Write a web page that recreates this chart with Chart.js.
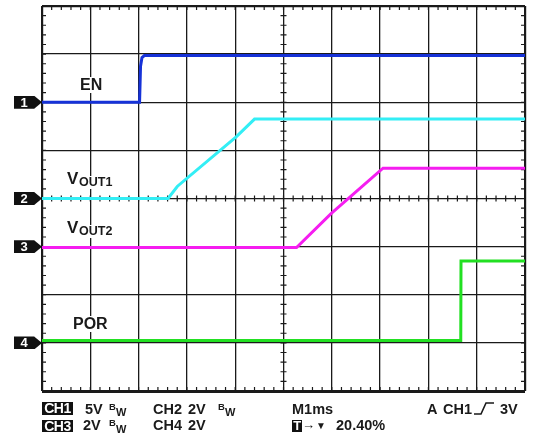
<!DOCTYPE html>
<html>
<head>
<meta charset="utf-8">
<script src="https://cdn.jsdelivr.net/npm/chart.js@4"></script>
<style>
  body { margin: 0; background: #fff; }
  #wrap { position: relative; width: 537px; height: 442px; overflow: hidden; font-family: "Liberation Sans", Arial, sans-serif; font-weight: bold; color: #1a1a1a; }
  #scope { position: absolute; left: 0; top: 0; }
  .t { position: absolute; line-height: 1; white-space: nowrap; }
  .lbl { background: #fff; padding: 0 1px; }
  .inv { position: absolute; background: #111; color: #fff; text-align: center; letter-spacing: -0.5px; }
  .mark { position: absolute; width: 28px; height: 13px; background: #111; color: #fff; font-size: 13px; line-height: 13px;
          clip-path: polygon(0 0, 72% 0, 100% 50%, 72% 100%, 0 100%); }
  .mark span { position: absolute; left: 0; width: 20px; text-align: center; }
</style>
</head>
<body>
<div id="wrap">
  <canvas id="scope" width="537" height="442"></canvas>
</div>
<script>
// time in ms (1 ms/div), level in divisions from bottom of screen
var enTime = [0, 2.02, 2.04, 2.07, 2.12, 10];
var enLevel = [6.0, 6.0, 6.75, 6.93, 6.97, 6.97];
var vout1Time = [0, 2.61, 2.80, 4.02, 4.40, 10];
var vout1Level = [4.0, 4.0, 4.25, 5.28, 5.65, 5.65];
var vout2Time = [0, 5.27, 5.99, 7.06, 10];
var vout2Level = [2.98, 2.98, 3.69, 4.63, 4.63];
var porTime = [0, 8.67, 8.675, 10];
var porLevel = [1.05, 1.05, 2.70, 2.70];

var channelNames = ["EN", "VOUT1", "VOUT2", "POR"];
var channelColors = ['#1632d8', '#33eef5', '#f51df0', '#22e022'];
var channelMarkers = [6, 4, 3, 1];
var xDivs = 10, yDivs = 8;

function pts(ts, vs) {
    return ts.map(function (t, i) { return { x: t, y: vs[i] }; });
}

var scopeTicks = {
    id: 'scopeTicks',
    beforeDatasetsDraw: function (chart) {
        var ctx = chart.ctx, a = chart.chartArea, x = chart.scales.x, y = chart.scales.y;
        var cx = x.getPixelForValue(xDivs / 2), cy = y.getPixelForValue(yDivs / 2);
        ctx.save();
        ctx.strokeStyle = '#1a1a1a';
        ctx.lineWidth = 1.2;
        ctx.beginPath();
        for (var i = 0; i <= xDivs * 5; i++) {
            var px = x.getPixelForValue(i / 5);
            ctx.moveTo(px, a.top); ctx.lineTo(px, a.top + 4);
            ctx.moveTo(px, a.bottom); ctx.lineTo(px, a.bottom - 4);
            ctx.moveTo(px, cy - 3); ctx.lineTo(px, cy + 3);
        }
        for (var j = 0; j <= yDivs * 5; j++) {
            var py = y.getPixelForValue(j / 5);
            ctx.moveTo(a.left, py); ctx.lineTo(a.left + 4, py);
            ctx.moveTo(a.right, py); ctx.lineTo(a.right - 4, py);
            ctx.moveTo(cx - 3, py); ctx.lineTo(cx + 3, py);
        }
        ctx.stroke();
        ctx.restore();
    }
};

var series = [pts(enTime, enLevel), pts(vout1Time, vout1Level), pts(vout2Time, vout2Level), pts(porTime, porLevel)];

var chart = new Chart(document.getElementById('scope').getContext('2d'), {
    type: 'line',
    data: {
        datasets: series.map(function (d, i) {
            return {
                label: channelNames[i],
                data: d,
                borderColor: channelColors[i],
                borderWidth: 3,
                pointRadius: 0,
                tension: 0,
                fill: false
            };
        })
    },
    options: {
        responsive: false,
        animation: false,
        layout: { padding: { left: 42, top: 6, right: 12, bottom: 51 } },
        plugins: { legend: { display: false }, tooltip: { enabled: false } },
        scales: {
            x: {
                type: 'linear', min: 0, max: xDivs,
                ticks: { display: false, stepSize: 1 },
                border: { display: false },
                grid: {
                    drawTicks: false, color: '#1a1a1a',
                    lineWidth: function (c) { return (c.tick.value === 0 || c.tick.value === xDivs) ? 2.2 : 1.3; }
                }
            },
            y: {
                type: 'linear', min: 0, max: yDivs,
                ticks: { display: false, stepSize: 1 },
                border: { display: false },
                grid: {
                    drawTicks: false, color: '#1a1a1a',
                    lineWidth: function (c) { return c.tick.value === 0 ? 3 : (c.tick.value === yDivs ? 2.2 : 1.3); }
                }
            }
        }
    },
    plugins: [scopeTicks]
});

var wrap = document.getElementById('wrap');
function put(text, x, base, size, cls) {
    var s = document.createElement('span');
    s.className = 't' + (cls ? ' ' + cls : '');
    s.textContent = text;
    s.style.fontSize = size + 'px';
    s.style.left = x + 'px';
    s.style.top = (base - 0.8465 * size) + 'px';
    wrap.appendChild(s);
    return s;
}
function box(text, x, top, w, h, size) {
    var s = document.createElement('span');
    s.className = 'inv';
    s.textContent = text;
    s.style.left = x + 'px'; s.style.top = top + 'px';
    s.style.width = w + 'px'; s.style.height = h + 'px';
    s.style.fontSize = size + 'px'; s.style.lineHeight = h + 'px';
    wrap.appendChild(s);
}

// channel ground markers
var ys = chart.scales.y;
channelMarkers.forEach(function (lvl, i) {
    var m = document.createElement('div');
    m.className = 'mark';
    m.style.left = '14px';
    m.style.top = (ys.getPixelForValue(lvl) - 6.5) + 'px';
    m.innerHTML = '<span>' + (i + 1) + '</span>';
    wrap.appendChild(m);
});

// trace labels
put('EN', 79, 91, 16, 'lbl');
put('V', 66, 184.5, 17, 'lbl');
put('OUT1', 78, 187, 12.5, 'lbl');
put('V', 66, 233.5, 17, 'lbl');
put('OUT2', 78, 236, 12.5, 'lbl');
put('POR', 72, 329.5, 16, 'lbl');

// status bar
var r1 = 414, r2 = 430.5;
box('CH1', 42, 402, 31, 12.5, 14);
put('5V', 85, r1, 14.5);
put('B', 109, r1 - 4, 9.5); put('W', 116, r1 + 2.5, 11);
put('CH2', 153, r1, 14.5); put('2V', 188, r1, 14.5);
put('B', 218, r1 - 4, 9.5); put('W', 225, r1 + 2.5, 11);
put('M1ms', 292, r1, 14.5);
put('A', 427, r1, 14.5);
put('CH1', 443, r1, 14.5);
put('3V', 500, r1, 14.5);
var edge = document.createElementNS('http://www.w3.org/2000/svg', 'svg');
edge.setAttribute('width', '20'); edge.setAttribute('height', '13');
edge.style.position = 'absolute'; edge.style.left = '474px'; edge.style.top = '402px';
edge.innerHTML = '<polyline points="0,12 7,12 12,1 20,1" fill="none" stroke="#1a1a1a" stroke-width="1.6"/>';
wrap.appendChild(edge);

box('CH3', 42, 419.5, 31, 12, 14);
put('2V', 83, r2, 14.5);
put('B', 109, r2 - 4, 9.5); put('W', 116, r2 + 2.5, 11);
put('CH4', 153, r2, 14.5); put('2V', 188, r2, 14.5);
box('T', 292, 419.5, 10, 12, 13);
put('\u2192', 302, r2 - 1, 13);
put('\u25BC', 316, r2 - 1, 10);
put('20.40%', 336, r2, 14.5);
</script>
</body>
</html>
